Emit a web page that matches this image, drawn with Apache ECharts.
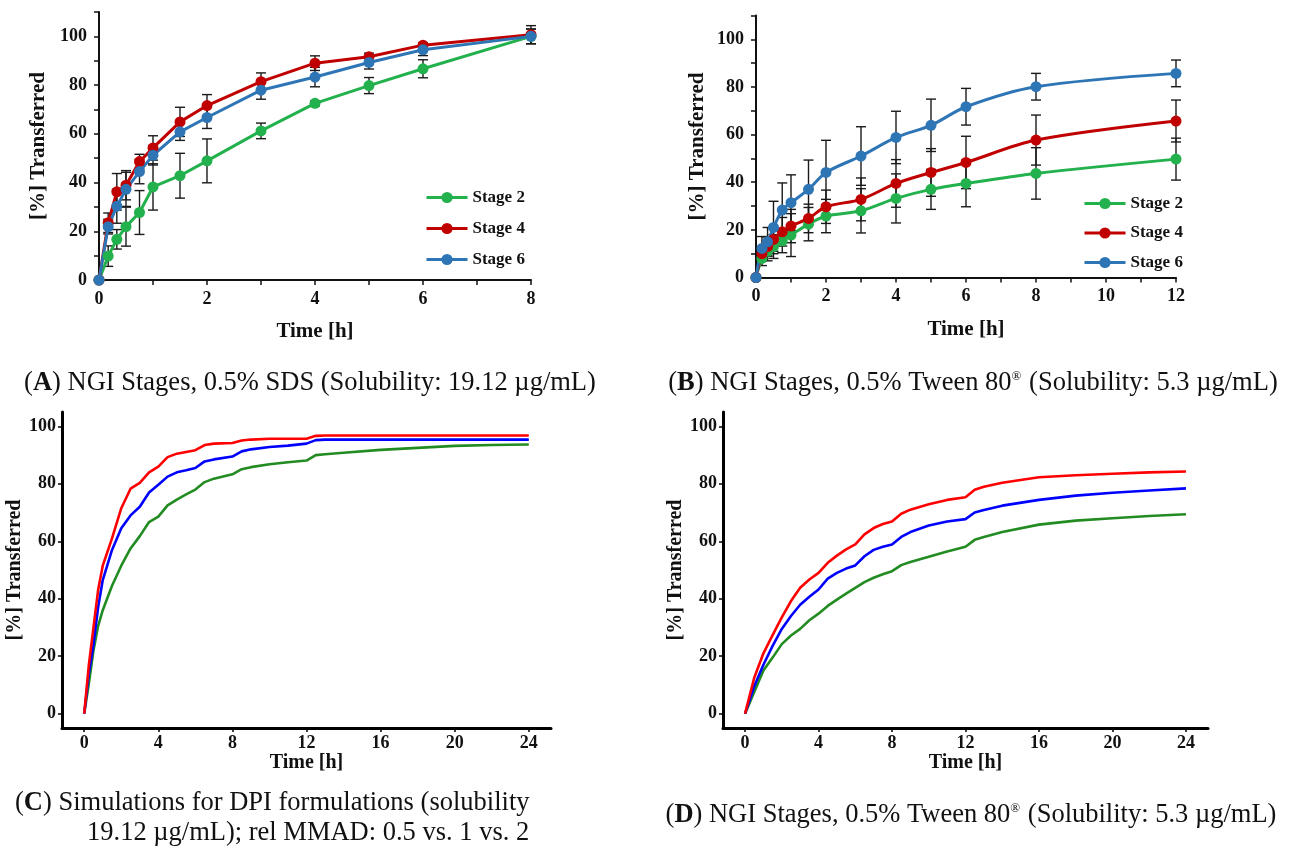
<!DOCTYPE html>
<html><head><meta charset="utf-8">
<script src="https://cdn.jsdelivr.net/npm/echarts@6/dist/echarts.min.js"></script>
<style>html,body{margin:0;padding:0;background:#fff}#c{width:1293px;height:852px}</style>
</head><body><div id="c"></div>
<script>
// ---------- Panel A data (NGI stages, 0.5% SDS) ----------
const timeA = [0, 0.17, 0.33, 0.5, 0.75, 1, 1.5, 2, 3, 4, 5, 6, 8];
const aStage2 = [0, 9.8, 16.7, 21.9, 27.7, 38.2, 42.8, 48.9, 61.2, 72.5, 79.8, 86.7, 100];
const aStage2Err = [0, 4.2, 4, 8, 9, 9.5, 9.2, 9, 3.2, 1, 3.3, 3.7, 3];
const aStage4 = [0, 23.5, 36.2, 38.9, 48.6, 54.2, 64.9, 71.6, 81.4, 89, 91.6, 96.4, 100.7];
const aStage4Err = [0, 4, 7.5, 6, 3, 5, 6, 4.5, 3.6, 3, 1.5, 1, 3.7];
const aStage6 = [0, 21.9, 30.3, 37.2, 44.5, 51.2, 60.8, 66.7, 77.9, 83.3, 89.3, 94.5, 100];
const aStage6Err = [0, 3, 7, 7, 5, 4, 3.5, 4.5, 3.7, 4, 2.7, 2.4, 3];

// ---------- Panel B data (NGI stages, 0.5% Tween 80) ----------
const timeB = [0, 0.17, 0.33, 0.5, 0.75, 1, 1.5, 2, 3, 4, 5, 6, 8, 12];
const bStage2 = [0, 8, 11, 13, 15.4, 17.8, 22.4, 25.8, 28, 33.2, 37, 39.5, 43.7, 49.7];
const bStage2Err = [0, 3, 4, 5, 5, 9, 7, 7, 9.3, 10.3, 8.4, 9.8, 10.8, 8.8];
const bStage4 = [0, 10, 13, 16, 19.2, 21.6, 24.8, 29.7, 32.8, 39.5, 44.1, 48.3, 57.7, 65.7];
const bStage4Err = [0, 3, 4, 5, 6, 7, 6, 7, 9, 10, 10, 11, 10.5, 8.8];
const bStage6 = [0, 12.2, 15, 21, 28.3, 31.4, 37, 44.1, 51, 58.8, 63.9, 71.7, 80.1, 85.7];
const bStage6Err = [0, 5, 6, 11, 11.4, 11.7, 12.3, 13.5, 12.3, 11, 11, 7.7, 5.6, 5.6];

// ---------- Panel C data (simulations, solubility 19.12 µg/mL) ----------
const timeC = [0, 0.25, 0.5, 0.75, 1, 1.5, 2, 2.5, 3, 3.5, 4, 4.5, 5, 5.5, 6, 6.5, 7, 8, 8.5, 9, 10, 11, 12, 12.5, 13, 14, 16, 18, 20, 22, 24];
const cRed   = [0, 17, 30, 43, 51.5, 61, 71.5, 78.3, 80.3, 84, 86, 89.3, 90.5, 91.1, 91.7, 93.5, 94, 94.2, 95.1, 95.4, 95.7, 95.7, 95.7, 96.7, 96.8, 96.8, 96.8, 96.8, 96.8, 96.8, 96.8];
const cBlue  = [0, 14, 24, 37, 46.5, 57, 64.5, 69, 72, 77, 79.7, 82.5, 84, 84.7, 85.5, 87.8, 88.5, 89.5, 91.3, 92, 92.8, 93.3, 94, 95.2, 95.4, 95.4, 95.4, 95.4, 95.4, 95.4, 95.4];
const cGreen = [0, 10.5, 22, 30.5, 36, 44.5, 51.5, 57.5, 61.8, 66.7, 68.6, 72.5, 74.5, 76.3, 78, 80.6, 81.8, 83.3, 85.1, 85.8, 86.8, 87.5, 88.1, 90, 90.3, 90.8, 91.8, 92.5, 93.2, 93.5, 93.7];

// ---------- Panel D data (NGI stages, 0.5% Tween 80, simulated) ----------
const timeD = [0, 0.5, 1, 1.5, 2, 2.5, 3, 3.5, 4, 4.5, 5, 5.5, 6, 6.5, 7, 7.5, 8, 8.5, 9, 10, 11, 12, 12.5, 13, 14, 16, 18, 20, 22, 24];
const dRed   = [0, 12.5, 21, 27.3, 33.5, 39.2, 43.8, 46.7, 49, 52.5, 55, 57.2, 58.9, 62.4, 64.6, 66, 66.9, 69.6, 71, 72.9, 74.4, 75.3, 77.9, 79, 80.4, 82.3, 83, 83.5, 84, 84.3];
const dBlue  = [0, 9.5, 17, 23.6, 29.5, 34, 37.9, 40.7, 43.2, 47, 49, 50.5, 51.6, 54.8, 57, 58.1, 58.9, 61.5, 63.2, 65.5, 66.9, 67.7, 70, 70.9, 72.4, 74.4, 75.9, 76.9, 77.7, 78.4];
const dGreen = [0, 7.5, 15, 19.5, 24.2, 27.2, 29.5, 32.5, 34.8, 37.5, 39.7, 41.8, 43.8, 45.8, 47.3, 48.5, 49.6, 51.7, 52.8, 54.6, 56.4, 58.1, 60.5, 61.5, 63.2, 65.8, 67.2, 68, 68.8, 69.4];

const stageNames = ['Stage 2', 'Stage 4', 'Stage 6'];
const ticksY = [0, 20, 40, 60, 80, 100];
const ticksXsim = [0, 4, 8, 12, 16, 20, 24];

// ---------- styles ----------
const SERIF = '"Liberation Serif", "Times New Roman", serif';
const COL = { s2: '#22b14c', s4: '#c00000', s6: '#2e75b6' };
const SIM = { red: '#ff0000', blue: '#0000ff', green: '#228b22' };

const chart = echarts.init(document.getElementById('c'), null, { renderer: 'canvas' });

const pair = (t, v) => t.map((x, i) => [x, v[i]]);
const errData = (t, v, e) => t.map((x, i) => [x, v[i] - e[i], v[i] + e[i]]).filter((d, i) => e[i] > 0);

function errRender(params, api) {
  const x = api.value(0), lo = api.value(1), hi = api.value(2);
  const p1 = api.coord([x, lo]), p2 = api.coord([x, hi]);
  const w = 5;
  const st = { stroke: '#1a1a1a', lineWidth: 1.4 };
  return {
    type: 'group', children: [
      { type: 'line', shape: { x1: p1[0], y1: p1[1], x2: p2[0], y2: p2[1] }, style: st },
      { type: 'line', shape: { x1: p1[0] - w, y1: p1[1], x2: p1[0] + w, y2: p1[1] }, style: st },
      { type: 'line', shape: { x1: p2[0] - w, y1: p2[1], x2: p2[0] + w, y2: p2[1] }, style: st }
    ]
  };
}

const tickFont = { fontFamily: SERIF, fontWeight: 'bold', fontSize: 18, color: '#111' };
const nameFont = { fontFamily: SERIF, fontWeight: 'bold', fontSize: 21, color: '#111' };

function expAxisX(gi, max, nameGap) {
  return {
    gridIndex: gi, type: 'value', min: 0, max: max, interval: 1,
    axisLine: { show: true, onZero: false, lineStyle: { color: '#111', width: 2 } },
    axisTick: { show: true, length: 5, lineStyle: { color: '#111', width: 1.5 } },
    axisLabel: Object.assign({ margin: 10, formatter: v => (v % 2 === 0 ? String(v) : '') }, tickFont),
    splitLine: { show: false },
    name: 'Time [h]', nameLocation: 'middle', nameGap: nameGap, nameTextStyle: nameFont
  };
}
function expAxisY(gi, nameGap) {
  return {
    gridIndex: gi, type: 'value', min: 0, max: 110, interval: 10,
    axisLine: { show: true, onZero: false, lineStyle: { color: '#111', width: 2 } },
    axisTick: { show: true, length: 5, lineStyle: { color: '#111', width: 1.5 } },
    axisLabel: Object.assign({ margin: 12, formatter: v => (v % 20 === 0 && v <= 100 ? String(v) : '') }, tickFont),
    splitLine: { show: false },
    name: '[%] Transferred', nameLocation: 'middle', nameGap: nameGap, nameRotate: 90, nameTextStyle: nameFont
  };
}
function simAxisX(gi) {
  return {
    gridIndex: gi, type: 'value', min: -1.2, max: 25.2,
    axisLine: { show: true, onZero: false, lineStyle: { color: '#000', width: 3 } },
    axisTick: { show: true, length: 4, customValues: ticksXsim, lineStyle: { color: '#000', width: 1.5 } },
    axisLabel: Object.assign({ margin: 6, customValues: ticksXsim }, tickFont),
    splitLine: { show: false },
    name: 'Time [h]', nameLocation: 'middle', nameGap: 22, nameTextStyle: Object.assign({}, nameFont, { fontSize: 20 })
  };
}
function simAxisY(gi) {
  return {
    gridIndex: gi, type: 'value', min: -5, max: 105,
    axisLine: { show: true, onZero: false, lineStyle: { color: '#000', width: 3 } },
    axisTick: { show: true, length: 4, customValues: ticksY, lineStyle: { color: '#000', width: 1.5 } },
    axisLabel: Object.assign({ margin: 6, customValues: ticksY }, tickFont),
    splitLine: { show: false },
    name: '[%] Transferred', nameLocation: 'middle', nameGap: 31, nameRotate: 90,
    nameTextStyle: Object.assign({}, nameFont, { fontSize: 20 })
  };
}

function stageSeries(name, xi, t, v, color, smooth) {
  return {
    name: name, type: 'line', xAxisIndex: xi, yAxisIndex: xi, data: pair(t, v),
    symbol: 'circle', symbolSize: 11, smooth: smooth,
    lineStyle: { color: color, width: 3 }, itemStyle: { color: color }, z: 3
  };
}
function errSeries(xi, t, v, e) {
  return {
    type: 'custom', xAxisIndex: xi, yAxisIndex: xi, data: errData(t, v, e),
    renderItem: errRender, encode: { x: 0, y: [1, 2] }, z: 2, silent: true, clip: false
  };
}
function simSeries(xi, t, v, color) {
  return {
    type: 'line', xAxisIndex: xi, yAxisIndex: xi, data: pair(t, v), showSymbol: false,
    smooth: false, lineStyle: { color: color, width: 2.6 }, z: 3, silent: true
  };
}

const CAP = 26.5;
const capFont = { fontFamily: SERIF, fontSize: CAP, fill: '#111' };
const rich = {
  b: { fontFamily: SERIF, fontSize: CAP, fontWeight: 'bold', fill: '#111' },
  s: { fontFamily: SERIF, fontSize: 13, fill: '#111', padding: [0, 1, 12, 0] }
};
function caption(text, x, y, align) {
  return { type: 'text', x: x, y: y, style: Object.assign({ text: text, rich: rich, align: align, verticalAlign: 'middle' }, capFont) };
}

const legendBase = {
  orient: 'vertical', data: stageNames, itemWidth: 41, itemHeight: 14,
  lineStyle: { width: 3 },
  textStyle: { fontFamily: SERIF, fontWeight: 'bold', fontSize: 17, color: '#111' },
  selectedMode: false
};

chart.setOption({
  animation: false,
  backgroundColor: '#fff',
  grid: [
    { left: 99, top: 12, width: 432, height: 268 },
    { left: 756, top: 15.5, width: 420, height: 262 },
    { left: 62, top: 412, width: 489, height: 316 },
    { left: 723, top: 412, width: 485, height: 316 }
  ],
  xAxis: [expAxisX(0, 8, 41), expAxisX(1, 12, 42), simAxisX(2), simAxisX(3)],
  yAxis: [expAxisY(0, 50), expAxisY(1, 47.5), simAxisY(2), simAxisY(3)],
  legend: [
    Object.assign({ left: 420, top: 184, itemGap: 14 }, legendBase),
    Object.assign({ left: 1078, top: 190, itemGap: 12.5 }, legendBase)
  ],
  series: [
    errSeries(0, timeA, aStage2, aStage2Err),
    errSeries(0, timeA, aStage4, aStage4Err),
    errSeries(0, timeA, aStage6, aStage6Err),
    stageSeries('Stage 2', 0, timeA, aStage2, COL.s2, false),
    stageSeries('Stage 4', 0, timeA, aStage4, COL.s4, false),
    stageSeries('Stage 6', 0, timeA, aStage6, COL.s6, false),
    errSeries(1, timeB, bStage2, bStage2Err),
    errSeries(1, timeB, bStage4, bStage4Err),
    errSeries(1, timeB, bStage6, bStage6Err),
    stageSeries('Stage 2', 1, timeB, bStage2, COL.s2, 0.3),
    stageSeries('Stage 4', 1, timeB, bStage4, COL.s4, 0.3),
    stageSeries('Stage 6', 1, timeB, bStage6, COL.s6, 0.3),
    simSeries(2, timeC, cGreen, SIM.green),
    simSeries(2, timeC, cBlue, SIM.blue),
    simSeries(2, timeC, cRed, SIM.red),
    simSeries(3, timeD, dGreen, SIM.green),
    simSeries(3, timeD, dBlue, SIM.blue),
    simSeries(3, timeD, dRed, SIM.red)
  ],
  graphic: [
    caption('({b|A}) NGI Stages, 0.5% SDS (Solubility: 19.12 \u00b5g/mL)', 310, 383, 'center'),
    caption('({b|B}) NGI Stages, 0.5% Tween 80{s|\u00ae} (Solubility: 5.3 \u00b5g/mL)', 973, 383, 'center'),
    caption('({b|C}) Simulations for DPI formulations (solubility', 15, 803, 'left'),
    caption('19.12 \u00b5g/mL); rel MMAD: 0.5 vs. 1 vs. 2', 87, 833, 'left'),
    caption('({b|D}) NGI Stages, 0.5% Tween 80{s|\u00ae} (Solubility: 5.3 \u00b5g/mL)', 971, 815, 'center')
  ]
});
</script></body></html>
